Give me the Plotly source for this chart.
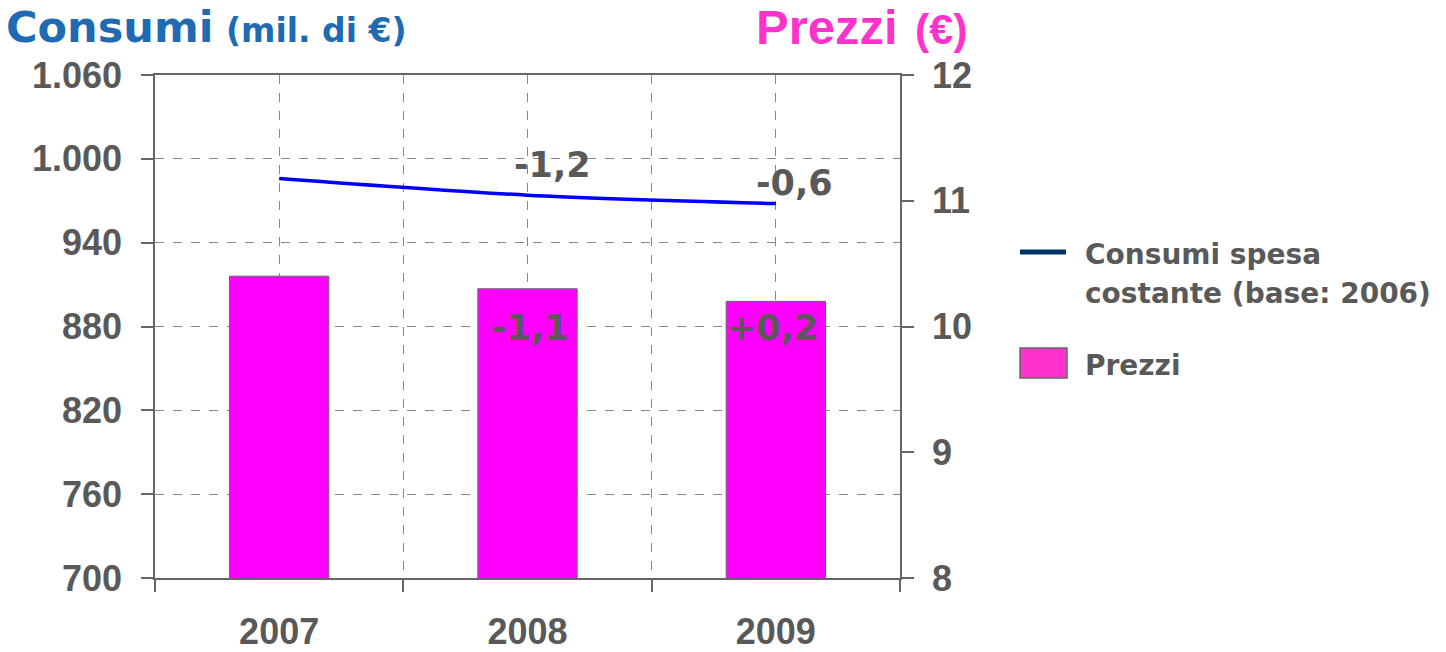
import plotly.graph_objects as go

# ---- data ----
years = ["2007", "2008", "2009"]
consumi = [986, 974, 968]          # mil. di € (left axis)
prezzi = [10.4, 10.3, 10.2]        # € (right axis)
consumi_var = ["", "-1,2", "-0,6"]
prezzi_var = ["", "-1,1", "+0,2"]
y_left_ticks = [700, 760, 820, 880, 940, 1000, 1060]
y_left_labels = ["700", "760", "820", "880", "940", "1.000", "1.060"]
y_right_ticks = [8, 9, 10, 11, 12]
y_right_labels = ["8", "9", "10", "11", "12"]

# ---- layout geometry (body margin removed in the page) ----
W, H = 1446, 652
PL, PR, PT, PB = 155, 900, 75, 578          # plot box in page pixels
L, T, R, B = PL, PT, W - PR, H - PB
PW, PH = PR - PL, PB - PT


def px(xp):
    return (xp - PL) / PW


def py(yp):
    return (PB - yp) / PH


GRAY = "#595959"
xs = list(range(len(years)))

fig = go.Figure()
fig.add_trace(go.Bar(
    x=xs, y=prezzi, yaxis="y2", width=0.4,
    marker=dict(color="#FF00FF", line=dict(color="#666666", width=1)),
    showlegend=False, name="Prezzi"))
fig.add_trace(go.Scatter(
    x=xs, y=consumi, mode="lines",
    line=dict(color="#0000FF", width=3.5, shape="spline", smoothing=0.8),
    showlegend=False, name="Consumi spesa costante (base: 2006)"))

ann = []
lab_font = dict(family="DejaVu Sans", size=35, color=GRAY)
for i, t in enumerate(consumi_var):
    if t:
        shifts = {1: (25, 30), 2: (19, 21)}[i]
        ann.append(dict(x=xs[i], y=consumi[i], xref="x", yref="y", text=f"<b>{t}</b>",
                        showarrow=False, xshift=shifts[0], yshift=shifts[1],
                        font=lab_font, xanchor="center", yanchor="middle"))
for i, t in enumerate(prezzi_var):
    if t:
        shifts = {1: (3, -39), 2: (-3, -27)}[i]
        ann.append(dict(x=xs[i], y=prezzi[i], xref="x", yref="y2", text=f"<b>{t}</b>",
                        showarrow=False, xshift=shifts[0], yshift=shifts[1],
                        font=lab_font, xanchor="center", yanchor="middle"))

# titles
BLUE = "#1E6BB3"
PINK = "#FF33CC"
ann += [
    dict(x=px(4), y=py(27), xref="paper", yref="paper", text="<b>Consumi</b>",
         showarrow=False, xanchor="left", yanchor="middle",
         font=dict(family="DejaVu Sans", size=43, color=BLUE)),
    dict(x=px(224), y=py(30), xref="paper", yref="paper", text="<b>(mil. di €)</b>",
         showarrow=False, xanchor="left", yanchor="middle",
         font=dict(family="DejaVu Sans", size=33, color=BLUE)),
    dict(x=px(754), y=py(27), xref="paper", yref="paper", text="<b>Prezzi</b>",
         showarrow=False, xanchor="left", yanchor="middle",
         font=dict(family="Liberation Sans", size=49, color=PINK)),
    dict(x=px(913), y=py(29), xref="paper", yref="paper", text="<b>(€)</b>",
         showarrow=False, xanchor="left", yanchor="middle",
         font=dict(family="Liberation Sans", size=43, color=PINK)),
]

# manual legend
leg_font = dict(family="DejaVu Sans", size=28, color=GRAY)
for txt, yc in [("Consumi spesa", 254), ("costante (base: 2006)", 293), ("Prezzi", 365)]:
    ann.append(dict(x=px(1083), y=py(yc), xref="paper", yref="paper", text=f"<b>{txt}</b>",
                    showarrow=False, xanchor="left", yanchor="middle", font=leg_font))
shapes = [
    dict(type="line", xref="paper", yref="paper", x0=px(1020), x1=px(1066),
         y0=py(252), y1=py(252), line=dict(color="#003366", width=5)),
    dict(type="rect", xref="paper", yref="paper", x0=px(1020), x1=px(1067),
         y0=py(378), y1=py(348), fillcolor=PINK, line=dict(color="#666666", width=1.5)),
]

axis_line = dict(showline=True, linecolor="#666666", linewidth=1.5, automargin=False)
fig.update_layout(
    width=W, height=H,
    margin=dict(l=L, r=R, t=T, b=B, autoexpand=False),
    paper_bgcolor="white", plot_bgcolor="white",
    font=dict(family="Liberation Sans", color=GRAY),
    annotations=ann, shapes=shapes,
    xaxis=dict(range=[-0.5, 2.5], tickvals=xs, ticktext=[f"<b>{y}</b>" for y in years],
               tickfont=dict(family="Liberation Sans", size=36, color=GRAY),
               ticks="", ticklabelstandoff=21, mirror=True,
               showgrid=True, gridcolor="#888888", griddash="dash", gridwidth=1,
               minor=dict(tickvals=[-0.5, 0.5, 1.5, 2.5], ticks="outside", ticklen=12,
                          tickcolor="#666666", tickwidth=1.5, showgrid=True,
                          gridcolor="#888888", griddash="dash", gridwidth=1),
               zeroline=False, **axis_line),
    yaxis=dict(range=[700, 1060], tickvals=y_left_ticks,
               ticktext=[f"<b>{t}</b>" for t in y_left_labels],
               tickfont=dict(family="Liberation Sans", size=36, color=GRAY),
               ticks="outside", ticklen=12, tickcolor="#666666", tickwidth=1.5,
               ticklabelstandoff=12,
               showgrid=True, gridcolor="#888888", griddash="dash", gridwidth=1,
               zeroline=False, **axis_line),
    yaxis2=dict(range=[8, 12], tickvals=y_right_ticks,
                ticktext=[f"<b>{t}</b>" for t in y_right_labels],
                tickfont=dict(family="Liberation Sans", size=36, color=GRAY),
                ticks="outside", ticklen=12, tickcolor="#666666", tickwidth=1.5,
                ticklabelstandoff=11,
                overlaying="y", side="right", showgrid=False, zeroline=False, **axis_line),
)

fig.write_html("out.html", config={"displayModeBar": False},
               post_script="document.body.style.margin='0';document.body.style.overflow='hidden';")
